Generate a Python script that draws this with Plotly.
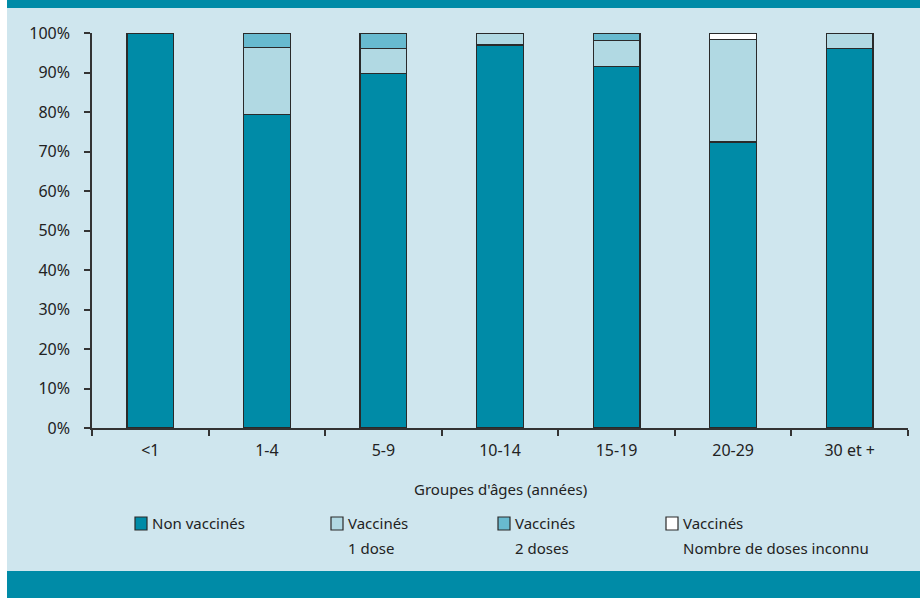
import plotly.graph_objects as go

# Age groups and share of cases by vaccination status (%)
age_groups = ["<1", "1-4", "5-9", "10-14", "15-19", "20-29", "30 et +"]
non_vaccines = [100, 79.3, 89.7, 97.0, 91.6, 72.4, 96.1]
vaccines_1_dose = [None, 17.0, 6.4, 3.0, 6.5, 25.9, 3.9]
vaccines_2_doses = [None, 3.7, 3.9, None, 1.9, None, None]
vaccines_inconnu = [None, None, None, None, None, 1.7, None]

series_names = ["Non vaccinés", "Vaccinés 1 dose", "Vaccinés 2 doses", "Vaccinés nombre de doses inconnu"]
legend_lines = [("Non vaccinés", ""), ("Vaccinés", "1 dose"), ("Vaccinés", "2 doses"),
                ("Vaccinés", "Nombre de doses inconnu")]

TEAL = "#008BA7"
LIGHT = "#B1D9E3"
MID = "#68BACF"
WHITE = "#FFFFFF"
BG = "#CFE6EE"
EDGE = "#2a2a2a"
FONT = "Noto Sans, Open Sans, sans-serif"

W, H = 920, 598
L, R, T, B = 92, 12, 33, 170
PW, PH = W - L - R, H - T - B


def px(x):
    return (x - L) / PW


def py(y):
    return (H - B - y) / PH


fig = go.Figure()
for name, vals, col in zip(series_names,
                           [non_vaccines, vaccines_1_dose, vaccines_2_doses, vaccines_inconnu],
                           [TEAL, LIGHT, MID, WHITE]):
    fig.add_trace(go.Bar(
        x=age_groups, y=vals, name=name, width=0.4,
        marker=dict(color=col, line=dict(color=EDGE, width=1.3)),
        showlegend=False,
    ))

shapes = [
    # white margin on the left edge
    dict(type="rect", xref="paper", yref="paper", x0=px(0), x1=px(7), y0=py(H), y1=py(0),
         fillcolor="white", line=dict(width=0), layer="above"),
    # top and bottom teal bands
    dict(type="rect", xref="paper", yref="paper", x0=px(7), x1=px(W), y0=py(8), y1=py(0),
         fillcolor=TEAL, line=dict(width=0), layer="above"),
    dict(type="rect", xref="paper", yref="paper", x0=px(7), x1=px(W), y0=py(H), y1=py(571),
         fillcolor=TEAL, line=dict(width=0), layer="above"),
]

annotations = []
legend_x = [135, 331, 498, 666]
for (l1, l2), col, x0 in zip(legend_lines, [TEAL, LIGHT, MID, WHITE], legend_x):
    shapes.append(dict(type="rect", xref="paper", yref="paper",
                       x0=px(x0), x1=px(x0 + 12), y0=py(530), y1=py(517),
                       fillcolor=col, line=dict(color=EDGE, width=1.2), layer="above"))
    annotations.append(dict(text=l1, xref="paper", yref="paper", x=px(x0 + 15), y=py(523),
                            xanchor="left", yanchor="middle", showarrow=False,
                            font=dict(family=FONT, size=15, color="#222")))
    if l2:
        annotations.append(dict(text=l2, xref="paper", yref="paper", x=px(x0 + 15), y=py(548),
                                xanchor="left", yanchor="middle", showarrow=False,
                                font=dict(family=FONT, size=15, color="#222")))

annotations.append(dict(text="Groupes d'âges (années)", xref="paper", yref="paper",
                        x=px(500), y=py(489), xanchor="center", yanchor="middle",
                        showarrow=False, font=dict(family=FONT, size=15, color="#222")))

fig.update_layout(
    width=W, height=H,
    margin=dict(l=L, r=R, t=T, b=B),
    paper_bgcolor=BG, plot_bgcolor=BG,
    barmode="stack", bargap=0.6,
    font=dict(family=FONT, size=15, color="#222"),
    shapes=shapes, annotations=annotations,
    xaxis=dict(
        showline=True, linecolor="#333", linewidth=1.5,
        ticks="outside", tickson="boundaries", ticklen=6, tickwidth=1.5, tickcolor="#333",
        ticklabelstandoff=7, showgrid=False, zeroline=False,
        tickfont=dict(family=FONT, size=16, color="#222"),
    ),
    yaxis=dict(
        range=[0, 100], dtick=10, ticksuffix="%",
        showline=True, linecolor="#333", linewidth=1.5,
        ticks="outside", ticklen=6, tickwidth=1.5, tickcolor="#333",
        ticklabelstandoff=11, showgrid=False, zeroline=False,
        tickfont=dict(family=FONT, size=16, color="#222"),
    ),
)

fig.write_html("out.html")
